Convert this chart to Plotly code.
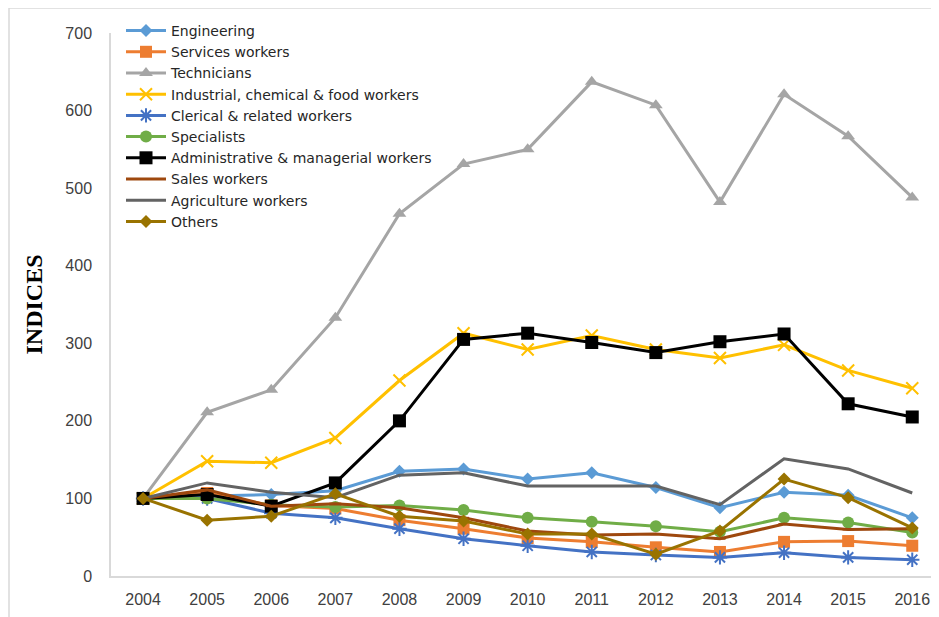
import plotly.graph_objects as go

years = [2004, 2005, 2006, 2007, 2008, 2009, 2010, 2011, 2012, 2013, 2014, 2015, 2016]
year_labels = [str(y) for y in years]
y_ticks = [0, 100, 200, 300, 400, 500, 600, 700]

engineering = [100, 103, 105, 110, 135, 138, 125, 133, 114, 88, 108, 104, 75]
services = [100, 107, 91, 87, 72, 61, 49, 44, 37, 31, 44, 45, 39]
technicians = [100, 211, 240, 333, 467, 531, 550, 637, 607, 482, 621, 567, 488]
industrial = [100, 148, 146, 178, 252, 313, 292, 310, 292, 281, 298, 265, 242]
clerical = [100, 100, 81, 75, 61, 48, 39, 31, 27, 24, 30, 24, 21]
specialists = [100, 100, 92, 89, 91, 85, 75, 70, 64, 57, 75, 69, 56]
administrative = [100, 105, 90, 120, 200, 305, 313, 301, 288, 302, 312, 222, 205]
sales = [100, 111, 90, 93, 88, 75, 58, 53, 54, 48, 67, 60, 61]
agriculture = [100, 120, 108, 101, 130, 133, 116, 116, 116, 92, 151, 138, 107]
others = [100, 72, 77, 106, 77, 71, 54, 54, 28, 58, 125, 101, 62]

series = [
    ("Engineering", engineering, "#5B9BD5", "diamond", 10),
    ("Services workers", services, "#ED7D31", "square", 12),
    ("Technicians", technicians, "#A5A5A5", "triangle-up", 12),
    ("Industrial, chemical & food workers", industrial, "#FFC000", "x-thin-open", 12),
    ("Clerical & related workers", clerical, "#4472C4", "asterisk-open", 12),
    ("Specialists", specialists, "#70AD47", "circle", 12),
    ("Administrative & managerial workers", administrative, "#000000", "square", 13),
    ("Sales workers", sales, "#9E480E", "line-ew-open", 8),
    ("Agriculture workers", agriculture, "#636363", None, 0),
    ("Others", others, "#997300", "diamond", 10),
]

fig = go.Figure()
for name, vals, color, sym, size in series:
    if sym is None:
        fig.add_trace(go.Scatter(x=years, y=vals, name=name, mode="lines",
                                 line=dict(color=color, width=3)))
    else:
        fig.add_trace(go.Scatter(
            x=years, y=vals, name=name, mode="lines+markers",
            line=dict(color=color, width=3),
            marker=dict(symbol=sym, size=size, color=color,
                        line=dict(color=color, width=2 if "open" in sym else 0)),
        ))

# page body adds an 8px offset; compensate so the plot lands where the reference has it
W, H = 931, 609
L, T, B = 103, 25, 41
PW = W - L
PH = H - T - B

fig.update_layout(
    width=W, height=H,
    margin=dict(l=L, r=0, t=T, b=B),
    paper_bgcolor="white", plot_bgcolor="white",
    font=dict(family="Liberation Sans, Arial, sans-serif", color="#404040"),
    showlegend=True,
    legend=dict(x=10 / PW, y=1.0 + 18 / PH, xanchor="left", yanchor="top",
                bgcolor="rgba(0,0,0,0)",
                font=dict(family="DejaVu Sans, sans-serif", size=14, color="#262626"),
                tracegroupgap=0, itemwidth=40),
    xaxis=dict(range=[2003.5, 2003.5 + PW / 64.1], tickmode="array", tickvals=years, ticktext=year_labels,
               showgrid=False, zeroline=False, showline=True, linecolor="#D9D9D9", linewidth=1.5,
               ticks="", tickfont=dict(size=16, color="#404040"), ticklabelstandoff=8),
    yaxis=dict(range=[0, 700], tickmode="array", tickvals=y_ticks,
               showgrid=False, zeroline=False, showline=True, linecolor="#D9D9D9", linewidth=1.5,
               ticks="", tickfont=dict(size=16, color="#404040"), ticklabelstandoff=14,
               title=dict(text="<b>INDICES</b>", standoff=16,
                          font=dict(family="Liberation Serif, Times New Roman, serif", size=24, color="#000000"))),
)

fig.add_shape(type="rect", xref="paper", yref="paper",
              x0=(9 - 111) / PW, x1=1.02, y0=-0.1, y1=(576 - 8) / PH,
              line=dict(color="#D9D9D9", width=1.5), fillcolor="rgba(0,0,0,0)", layer="below")

fig.write_html("out.html")
